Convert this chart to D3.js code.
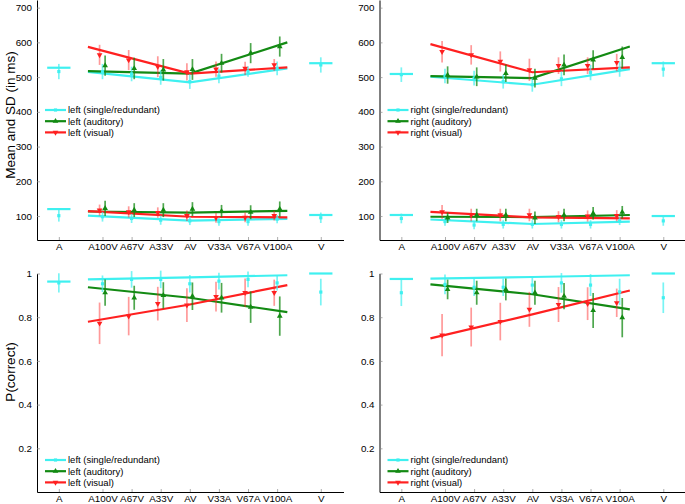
<!DOCTYPE html>
<html><head><meta charset="utf-8">
<script src="https://cdn.jsdelivr.net/npm/d3@7"></script>
<style>body{margin:0;background:#fff}svg{display:block}text{font-family:"Liberation Sans",Arial,sans-serif}</style>
</head><body>
<script>
// ---------- data ----------
const categories = ["A","A100V","A67V","A33V","AV","V33A","V67A","V100A","V"];
const catPos = [-0.5,1,2,3,4,5,6,7,8.5];
const mixIdx = [1,2,3,4,5,6,7];           // positions of the bimodal conditions
const fitX = [0.5,4,7.35];                 // model line support
const rtTicks = [100,200,300,400,500,600,700];
const pTicks = [0.2,0.4,0.6,0.8,1];
const pTickLabels = ["0.2","0.4","0.6","0.8","1"];

// left RT (mean)
const L_rt_cyan = [516,516,509,499,487,503,516,525,535];
const L_rt_cyan_e = [22,22,21,21,21,21,15,20,22];
const L_rt_green = [533,525,521,522,540,569,588];
const L_rt_green_e = [29,31,31,30,27,29,29];
const L_rt_red = [564,549,530,515,523,525,535];
const L_rt_red_e = [29,29,30,25,22,19,17];
// left RT (SD)
const L_sd_cyan = [101,98,93,88,86,84,84,91,95];
const L_sd_cyan_e = [17,14,13,13,12,12,12,12,15];
const L_sd_green = [122,117,117,120,114,111,120];
const L_sd_green_e = [22,20,20,20,18,20,22];
const L_sd_red = [117,112,110,101,95,96,101];
const L_sd_red_e = [16,16,15,15,14,14,14];
// left RT model
const L_fit_cyan = [515,485,525], L_fit_green = [517,510,600], L_fit_red = [587,510,528];
const L_fitsd_cyan = [101,87,92], L_fitsd_green = [113,110,115], L_fitsd_red = [114,98,96];
const L_uni = [527,540], L_unisd = [120,103];

// right RT (mean)
const R_rt_cyan = [507,503,497,487,478,495,513,523,523];
const R_rt_cyan_e = [21,21,21,20,20,21,22,22,22];
const R_rt_green = [506,501,511,497,535,550,557];
const R_rt_green_e = [25,27,25,27,30,27,31];
const R_rt_red = [573,564,545,521,533,533,542];
const R_rt_red_e = [31,28,29,32,24,24,25];
// right RT (SD)
const R_sd_cyan = [93,84,74,76,76,76,76,86,86];
const R_sd_cyan_e = [14,12,12,12,12,12,12,12,14];
const R_sd_green = [95,103,103,95,103,108,111];
const R_sd_green_e = [15,18,18,18,18,18,18];
const R_sd_red = [112,103,103,103,98,100,101];
const R_sd_red_e = [20,18,18,18,16,16,16];
const R_fit_cyan = [501,478,523], R_fit_green = [503,497,588], R_fit_red = [595,514,528];
const R_fitsd_cyan = [90,77,84], R_fitsd_green = [98,97,103], R_fitsd_red = [112,96,93];
const R_uni = [509,540], R_unisd = [103,100];

// left P(correct)
const L_p_cyan = [0.957,0.953,0.973,0.973,0.953,0.965,0.973,0.957,0.915];
const L_p_cyan_e = [0.044,0.038,0.038,0.04,0.04,0.038,0.036,0.035,0.061];
const L_p_green = [0.912,0.889,0.90,0.896,0.889,0.846,0.805];
const L_p_green_e = [0.06,0.055,0.06,0.063,0.068,0.072,0.09];
const L_p_red = [0.772,0.805,0.862,0.855,0.894,0.912,0.912];
const L_p_red_e = [0.095,0.088,0.077,0.077,0.068,0.065,0.06];
const L_pfit_cyan = [0.973,0.982,0.992], L_pfit_green = [0.937,0.889,0.823], L_pfit_red = [0.779,0.858,0.947];
const L_puni = [0.963,1.0];

// right P(correct)
const R_p_cyan = [0.912,0.95,0.937,0.937,0.947,0.957,0.947,0.916,0.889];
const R_p_cyan_e = [0.061,0.045,0.04,0.04,0.04,0.045,0.05,0.06,0.07];
const R_p_green = [0.927,0.912,0.927,0.912,0.896,0.831,0.798];
const R_p_green_e = [0.045,0.055,0.05,0.055,0.06,0.08,0.09];
const R_p_red = [0.718,0.755,0.78,0.836,0.858,0.862,0.866];
const R_p_red_e = [0.097,0.089,0.086,0.08,0.08,0.075,0.065];
const R_pfit_cyan = [0.977,0.984,0.992], R_pfit_green = [0.95,0.905,0.836], R_pfit_red = [0.703,0.813,0.922];
const R_puni = [0.975,1.0];

const legendLeft = ["left (single/redundant)","left (auditory)","left (visual)"];
const legendRight = ["right (single/redundant)","right (auditory)","right (visual)"];

// ---------- styling ----------
const COL = {cyan:"#3ff0f0", green:"#138a13", red:"#ff2020"};
const EOP = {cyan:0.7, green:0.75, red:0.45};
const OFF = {cyan:0, green:0.09, red:-0.1};

const W=685,H=504;
const svg = d3.select("body").append("svg").attr("width",W).attr("height",H);

const xDomain=[-1.25,9.28];
const xs = [d3.scaleLinear().domain(xDomain).range([37,343.5]),
            d3.scaleLinear().domain(xDomain).range([379.5,686])];
const yRT = d3.scaleLinear().domain([31,722]).range([240,0]);
const yP = d3.scaleLinear().domain([0,1]).range([492,273.5]);

function symbolFor(s){
  if(s==="cyan") return d3.symbol().type(d3.symbolSquare).size(10)();
  return d3.symbol().type(d3.symbolTriangle).size(14)();
}

function drawAxes(g,x,y,ticks,tickLabels,title,titleY){
  const ya = d3.axisLeft(y).tickValues(ticks).tickSize(-3).tickSizeOuter(0).tickPadding(5);
  if(tickLabels) ya.tickFormat((d,i)=>tickLabels[i]);
  const gy = g.append("g").attr("transform",`translate(${x.range()[0]},0)`).call(ya);
  gy.selectAll("text").attr("font-size",9.8).attr("fill","#000").attr("font-family",'"Liberation Sans",Arial,sans-serif');
  gy.selectAll(".tick line").attr("stroke","#888").attr("stroke-width",0.7);
  gy.select(".domain").attr("stroke","#000").attr("stroke-width",1);
  const xa = d3.axisBottom(x).tickValues(catPos).tickFormat((d,i)=>categories[i]).tickSize(-3).tickSizeOuter(0).tickPadding(3);
  const gx = g.append("g").attr("transform",`translate(0,${y.range()[0]})`).call(xa);
  gx.selectAll("text").attr("font-size",9.8).attr("fill","#000").attr("font-family",'"Liberation Sans",Arial,sans-serif');
  gx.selectAll(".tick line").attr("stroke","#888").attr("stroke-width",0.7);
  gx.select(".domain").attr("stroke","#000").attr("stroke-width",1);
  if(title){
    g.append("text").attr("transform",`translate(15,${titleY}) rotate(-90)`)
      .attr("text-anchor","middle").attr("font-size",13.5).text(title);
  }
}

function drawFit(g,x,y,vals,s){
  const line = d3.line().x((d,i)=>x(fitX[i])).y(d=>y(d));
  g.append("path").attr("d",line(vals)).attr("fill","none").attr("stroke",COL[s]).attr("stroke-width",2.2);
}
function drawUni(g,x,y,vals){
  [catPos[0],catPos[8]].forEach((c,i)=>{
    g.append("line").attr("x1",x(c-0.4)).attr("x2",x(c+0.4)).attr("y1",y(vals[i])).attr("y2",y(vals[i]))
      .attr("stroke",COL.cyan).attr("stroke-width",2.2);
  });
}
function drawPoints(g,x,y,vals,errs,s,positions){
  vals.forEach((v,i)=>{
    const cx = x(positions[i]+OFF[s]);
    g.append("line").attr("x1",cx).attr("x2",cx).attr("y1",y(v-errs[i])).attr("y2",y(v+errs[i]))
      .attr("stroke",COL[s]).attr("stroke-width",1.7).attr("opacity",EOP[s]);
    g.append("path").attr("d",symbolFor(s))
      .attr("transform",`translate(${cx},${y(v)})${s==="red"?" rotate(180)":""}`)
      .attr("fill",COL[s]);
  });
}
function drawLegend(g,x0,y0,labels){
  ["cyan","green","red"].forEach((s,i)=>{
    const yy = y0+i*11.2;
    g.append("line").attr("x1",x0).attr("x2",x0+21).attr("y1",yy).attr("y2",yy).attr("stroke",COL[s]).attr("stroke-width",2.2);
    g.append("path").attr("d",symbolFor(s)).attr("transform",`translate(${x0+10.5},${yy})${s==="red"?" rotate(180)":""}`).attr("fill",COL[s]);
    g.append("text").attr("x",x0+23).attr("y",yy+3.3).attr("font-size",9.5).text(labels[i]);
  });
}

const cyanPos = catPos;
const mixPos = mixIdx.map(i=>catPos[i]);

function rtPanel(col,d){
  const g = svg.append("g"), x = xs[col];
  drawAxes(g,x,yRT,rtTicks,null,col===0?"Mean and SD (in ms)":null,115);
  drawUni(g,x,yRT,d.uni); drawUni(g,x,yRT,d.unisd);
  drawFit(g,x,yRT,d.fc,"cyan"); drawFit(g,x,yRT,d.fg,"green"); drawFit(g,x,yRT,d.fr,"red");
  drawFit(g,x,yRT,d.sc,"cyan"); drawFit(g,x,yRT,d.sg,"green"); drawFit(g,x,yRT,d.sr,"red");
  drawPoints(g,x,yRT,d.c,d.ce,"cyan",cyanPos);
  drawPoints(g,x,yRT,d.gr,d.ge,"green",mixPos);
  drawPoints(g,x,yRT,d.r,d.re,"red",mixPos);
  drawPoints(g,x,yRT,d.sdc,d.sdce,"cyan",cyanPos);
  drawPoints(g,x,yRT,d.sdg,d.sdge,"green",mixPos);
  drawPoints(g,x,yRT,d.sdr,d.sdre,"red",mixPos);
  drawLegend(g,x.range()[0]+8,110,d.leg);
}
function pPanel(col,d){
  const g = svg.append("g"), x = xs[col];
  drawAxes(g,x,yP,pTicks,pTickLabels,col===0?"P(correct)":null,372);
  drawUni(g,x,yP,d.uni);
  drawFit(g,x,yP,d.fc,"cyan"); drawFit(g,x,yP,d.fg,"green"); drawFit(g,x,yP,d.fr,"red");
  drawPoints(g,x,yP,d.c,d.ce,"cyan",cyanPos);
  drawPoints(g,x,yP,d.gr,d.ge,"green",mixPos);
  drawPoints(g,x,yP,d.r,d.re,"red",mixPos);
  drawLegend(g,x.range()[0]+8,460,d.leg);
}

rtPanel(0,{c:L_rt_cyan,ce:L_rt_cyan_e,gr:L_rt_green,ge:L_rt_green_e,r:L_rt_red,re:L_rt_red_e,
  sdc:L_sd_cyan,sdce:L_sd_cyan_e,sdg:L_sd_green,sdge:L_sd_green_e,sdr:L_sd_red,sdre:L_sd_red_e,
  fc:L_fit_cyan,fg:L_fit_green,fr:L_fit_red,sc:L_fitsd_cyan,sg:L_fitsd_green,sr:L_fitsd_red,
  uni:L_uni,unisd:L_unisd,leg:legendLeft});
rtPanel(1,{c:R_rt_cyan,ce:R_rt_cyan_e,gr:R_rt_green,ge:R_rt_green_e,r:R_rt_red,re:R_rt_red_e,
  sdc:R_sd_cyan,sdce:R_sd_cyan_e,sdg:R_sd_green,sdge:R_sd_green_e,sdr:R_sd_red,sdre:R_sd_red_e,
  fc:R_fit_cyan,fg:R_fit_green,fr:R_fit_red,sc:R_fitsd_cyan,sg:R_fitsd_green,sr:R_fitsd_red,
  uni:R_uni,unisd:R_unisd,leg:legendRight});
pPanel(0,{c:L_p_cyan,ce:L_p_cyan_e,gr:L_p_green,ge:L_p_green_e,r:L_p_red,re:L_p_red_e,
  fc:L_pfit_cyan,fg:L_pfit_green,fr:L_pfit_red,uni:L_puni,leg:legendLeft});
pPanel(1,{c:R_p_cyan,ce:R_p_cyan_e,gr:R_p_green,ge:R_p_green_e,r:R_p_red,re:R_p_red_e,
  fc:R_pfit_cyan,fg:R_pfit_green,fr:R_pfit_red,uni:R_puni,leg:legendRight});
</script>
</body></html>
